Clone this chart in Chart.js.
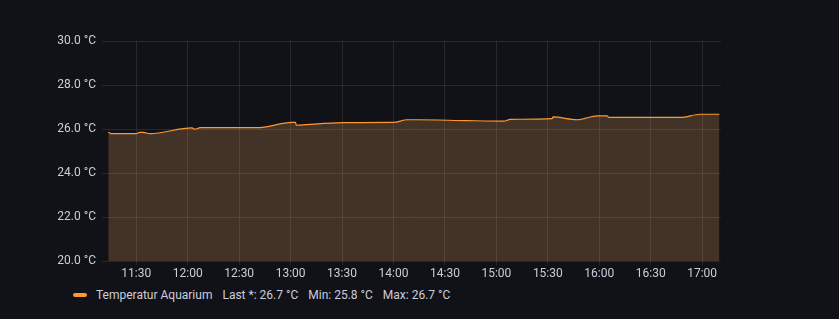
<!DOCTYPE html>
<html>
<head>
<meta charset="utf-8">
<script src="https://cdn.jsdelivr.net/npm/chart.js@4.4.1/dist/chart.umd.min.js"></script>
<style>
  html, body { margin: 0; padding: 0; background: #111217; }
  body { width: 839px; height: 319px; position: relative; overflow: hidden; font-family: Roboto, "Noto Sans", sans-serif; }
  #wrap { position: absolute; left: 0; top: 0; width: 839px; height: 280px; }
  #legend { position: absolute; left: 73px; top: 287px; height: 16px; display: flex; align-items: center; color: #ccccdc; font-size: 12px; white-space: nowrap; }
  #legend .swatch { width: 14px; height: 4px; border-radius: 2px; background: #ff9830; margin-right: 9px; }
  #legend span.stat { margin-left: 10px; }
</style>
</head>
<body>
<div id="wrap"><canvas id="chart" width="839" height="280"></canvas></div>
<div id="legend"></div>

<script>
// Zeitpunkte (HH:MM:SS) und Temperaturwerte
const times = ['11:13:40', '11:15:25', '11:30:00', '11:31:50', '11:34:05', '11:37:50',
  '12:02:30', '12:04:00', '12:07:20', '12:40:25', '13:00:50', '13:02:50', '13:03:20',
  '13:05:40', '13:30:50', '14:00:05', '14:07:55', '14:13:50', '14:42:55', '15:04:20',
  '15:08:10', '15:32:30', '15:33:05', '15:47:05', '15:58:50', '16:04:35', '16:05:30',
  '16:47:20', '16:59:00', '17:10:05'];
const temps = [25.85, 25.79, 25.79, 25.85, 25.85, 25.79,
  26.05, 25.99, 26.06, 26.06, 26.30, 26.30, 26.17,
  26.18, 26.29, 26.30, 26.42, 26.42, 26.38, 26.36,
  26.44, 26.47, 26.55, 26.42, 26.60, 26.60, 26.53,
  26.53, 26.67, 26.67];
const xTickLabels = ['11:30', '12:00', '12:30', '13:00', '13:30', '14:00', '14:30', '15:00', '15:30', '16:00', '16:30', '17:00'];
const yTicks = [20, 22, 24, 26, 28, 30];
const rangeStart = '11:10:00';
const rangeEnd = '17:11:00';
const seriesName = 'Temperatur Aquarium';

// Uhrzeit -> Minuten seit Mitternacht
function toMinutes(t) {
  const p = t.split(':').map(Number);
  return p[0] * 60 + p[1] + (p[2] || 0) / 60;
}
function fmtTime(m) {
  const h = Math.floor(m / 60), mm = Math.round(m % 60);
  return String(h).padStart(2, '0') + ':' + String(mm).padStart(2, '0');
}

const points = times.map((t, i) => ({ x: toMinutes(t), y: temps[i] }));

const textColor = '#ccccdc';
const gridColor = 'rgba(204, 204, 220, 0.12)';

new Chart(document.getElementById('chart').getContext('2d'), {
  type: 'line',
  data: {
    datasets: [{
      label: seriesName,
      data: points,
      borderColor: '#ff9830',
      borderWidth: 1.2,
      backgroundColor: 'rgba(230, 160, 90, 0.24)',
      fill: 'start',
      pointRadius: 0,
      cubicInterpolationMode: 'monotone'
    }]
  },
  options: {
    responsive: false,
    animation: false,
    events: [],
    layout: { padding: { left: 0, top: 41, right: 118, bottom: 0 } },
    plugins: {
      legend: { display: false },
      tooltip: { enabled: false }
    },
    scales: {
      x: {
        type: 'linear',
        min: toMinutes(rangeStart),
        max: toMinutes(rangeEnd),
        afterBuildTicks: (scale) => {
          scale.ticks = xTickLabels.map(l => ({ value: toMinutes(l) }));
        },
        afterFit: (scale) => { scale.height = 19; },
        border: { display: false },
        grid: { color: gridColor, drawTicks: true, tickLength: 4, tickColor: gridColor },
        ticks: {
          color: textColor,
          font: { family: 'Roboto', size: 12 },
          padding: 2,
          maxRotation: 0,
          autoSkip: false,
          callback: (v) => fmtTime(v)
        }
      },
      y: {
        min: 20,
        max: 30,
        afterBuildTicks: (scale) => {
          scale.ticks = yTicks.map(v => ({ value: v }));
        },
        afterFit: (scale) => { scale.width = 102; },
        border: { display: false },
        grid: { color: gridColor, drawTicks: false },
        ticks: {
          color: textColor,
          font: { family: 'Roboto', size: 12 },
          padding: 6,
          callback: (v) => v.toFixed(1) + ' °C'
        }
      }
    }
  }
});

// Legende im Grafana-Stil
const last = temps[temps.length - 1];
const min = Math.min(...temps);
const max = Math.max(...temps);
document.getElementById('legend').innerHTML =
  '<div class="swatch"></div><span>' + seriesName + '</span>' +
  '<span class="stat">Last *: ' + last.toFixed(1) + ' °C</span>' +
  '<span class="stat">Min: ' + min.toFixed(1) + ' °C</span>' +
  '<span class="stat">Max: ' + max.toFixed(1) + ' °C</span>';
</script>
</body>
</html>
